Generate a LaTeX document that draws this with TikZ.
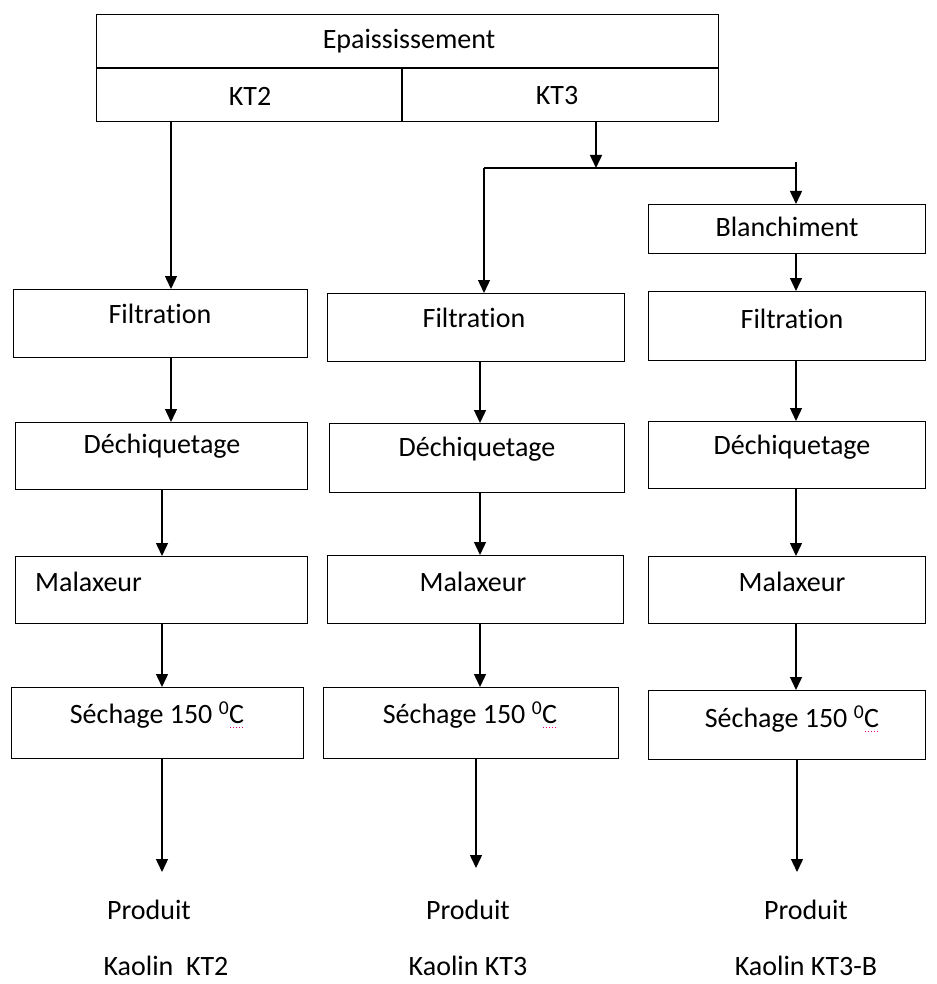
\documentclass[tikz,border=0pt]{standalone}
\usepackage{fontspec}
\setmainfont{Carlito}[Ligatures=NoCommon]
\usetikzlibrary{arrows.meta}
\newcommand\spC{\setbox0\hbox{C}\rlap{\raisebox{-4pt}{\color{magenta}\hbox to \wd0{\xleaders\hbox to 2.6pt{\hss\vrule width 1pt height 0.9pt\hss}\hfill}}}C}
\begin{document}
\begin{tikzpicture}[x=1pt,y=-1pt,
  box/.style={draw, line width=1.4pt, anchor=north west, inner sep=0pt},
  lbl/.style={font=\fontsize{28}{32}\selectfont, inner sep=0pt},
  arr/.style={line width=1.4pt, -{Triangle[length=13pt,width=12pt]}},
  ln/.style={line width=1.4pt}]
\useasboundingbox (0,0) rectangle (936,984);
% top box
\node[box, minimum width=622pt, minimum height=107pt] (top) at (96,14) {};
\coordinate (tl) at (96,68);
\coordinate (tr) at (718,68);
\draw[ln] (tl) -- (tr);
\coordinate (dv1) at (402,68);
\coordinate (dv2) at (402,121);
\draw[ln] (dv1) -- (dv2);
\node[lbl] (ep) at (409,41) {Epaississement};
\node[lbl] (kt2) at (250,96) {KT2};
\node[lbl] (kt3) at (557,96) {KT3};
% column 1
\node[box, minimum width=294pt, minimum height=68pt] (f1) at (13,289) {};
\node[box, minimum width=292pt, minimum height=67pt] (d1) at (15,422) {};
\node[box, minimum width=292pt, minimum height=67pt] (m1) at (15,556) {};
\node[box, minimum width=292pt, minimum height=71pt] (s1) at (11,687) {};
\node[lbl] (tf1) at (160,314) {Filtration};
\node[lbl] (td1) at (162,446) {Déchiquetage};
\node[lbl, anchor=west] (tm1) at (35,582) {Malaxeur};
\node[lbl] (ts1) at (157,715) {Séchage 150 \textsuperscript{0}\spC};
% column 2
\node[box, minimum width=297pt, minimum height=68pt] (f2) at (327,293) {};
\node[box, minimum width=295pt, minimum height=69pt] (d2) at (329,423) {};
\node[box, minimum width=296pt, minimum height=68pt] (m2) at (327,555) {};
\node[box, minimum width=295pt, minimum height=71pt] (s2) at (323,687) {};
\node[lbl] (tf2) at (474,318) {Filtration};
\node[lbl] (td2) at (477,449) {Déchiquetage};
\node[lbl] (tm2) at (473,582) {Malaxeur};
\node[lbl] (ts2) at (470,715) {Séchage 150 \textsuperscript{0}\spC};
% column 3
\node[box, minimum width=277pt, minimum height=49pt] (b3) at (648,204) {};
\node[box, minimum width=277pt, minimum height=69pt] (f3) at (648,291) {};
\node[box, minimum width=277pt, minimum height=67pt] (d3) at (648,421) {};
\node[box, minimum width=277pt, minimum height=67pt] (m3) at (648,556) {};
\node[box, minimum width=277pt, minimum height=69pt] (s3) at (648,690) {};
\node[lbl] (tb3) at (787,227) {Blanchiment};
\node[lbl] (tf3) at (792,319) {Filtration};
\node[lbl] (td3) at (792,447) {Déchiquetage};
\node[lbl] (tm3) at (792,582) {Malaxeur};
\node[lbl] (ts3) at (792,719) {Séchage 150 \textsuperscript{0}\spC};
% products
\node[lbl] (p1) at (149,910) {Produit};
\node[lbl] (k1) at (166,966) {Kaolin\ \ KT2};
\node[lbl] (p2) at (468,910) {Produit};
\node[lbl] (k2) at (468,966) {Kaolin KT3};
\node[lbl] (p3) at (806,910) {Produit};
\node[lbl] (k3) at (806,966) {Kaolin KT3-B};
% arrows column 1
\coordinate (a1) at (171,121);
\draw[arr] (a1) -- (f1.north -| a1);
\draw[arr] (f1.south -| a1) -- (d1.north -| a1);
\coordinate (a1b) at (162,0);
\draw[arr] (d1.south -| a1b) -- (m1.north -| a1b);
\draw[arr] (m1.south -| a1b) -- (s1.north -| a1b);
\coordinate (e1) at (162,872);
\draw[arr] (s1.south -| e1) -- (e1);
% split
\coordinate (k3s) at (596,121);
\coordinate (k3e) at (596,168);
\draw[arr] (k3s) -- (k3e);
\coordinate (hl) at (484,168);
\coordinate (hr) at (796,168);
\coordinate (ht) at (796,162);
\draw[ln] (hl) -- (hr);
\draw[arr] (hl) -- (f2.north -| hl);
\draw[arr] (ht) -- (b3.north -| ht);
% arrows column 2
\coordinate (a2) at (480,0);
\draw[arr] (f2.south -| a2) -- (d2.north -| a2);
\draw[arr] (d2.south -| a2) -- (m2.north -| a2);
\draw[arr] (m2.south -| a2) -- (s2.north -| a2);
\coordinate (e2) at (476,868);
\draw[arr] (s2.south -| e2) -- (e2);
% arrows column 3
\coordinate (a3) at (796,0);
\draw[arr] (b3.south -| a3) -- (f3.north -| a3);
\draw[arr] (f3.south -| a3) -- (d3.north -| a3);
\draw[arr] (d3.south -| a3) -- (m3.north -| a3);
\draw[arr] (m3.south -| a3) -- (s3.north -| a3);
\coordinate (e3) at (797,872);
\draw[arr] (s3.south -| e3) -- (e3);
\end{tikzpicture}
\end{document}
